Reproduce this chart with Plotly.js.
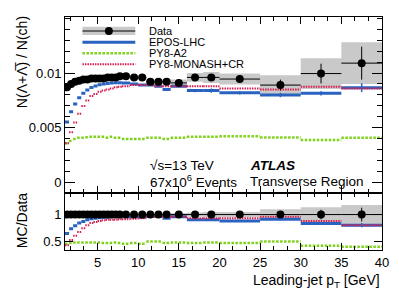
<!DOCTYPE html>
<html><head><meta charset="utf-8">
<script src="https://cdn.plot.ly/plotly-3.0.1.min.js"></script>
<style>html,body{margin:0;padding:0;background:#fff}#c{width:399px;height:299px}</style>
</head><body><div id="c"></div>
<script>
// Bin edges (leading-jet pT, GeV)
const binLo = [1,1.5,2,2.5,3,3.5,4,4.5,5,5.5,6,6.5,7,7.5,8,9,10,11,12,13,14,16,18,20,25,30,35];
const binHi = [1.5,2,2.5,3,3.5,4,4.5,5,5.5,6,6.5,7,7.5,8,9,10,11,12,13,14,16,18,20,25,30,35,40];

// Top panel: N(Lambda+antiLambda)/N(ch)
const dataVal = [0.0087,0.0090,0.0092,0.0093,0.0094,0.0094,0.0095,0.0095,0.0095,0.0095,0.0096,0.0096,0.0096,0.0097,
                 0.0097,0.0096,0.0096,0.0092,0.0092,0.0092,0.0091,0.0096,0.0096,0.00945,0.0089,0.00995,0.0109];
const dataStat = [0.00003,0.00003,0.00003,0.00003,0.00003,0.00003,0.00003,0.00003,0.00003,0.00003,0.00003,0.00003,0.00003,0.00003,
                  0.00005,0.00005,0.00005,0.00006,0.00007,0.00008,0.0001,0.0002,0.0003,0.0002,0.0005,0.0009,0.0015];
const dataSys = [0.00015,0.00015,0.00015,0.00015,0.00015,0.00015,0.00015,0.00015,0.00015,0.00015,0.00015,0.00015,0.00015,0.00015,
                 0.0002,0.0002,0.0002,0.0002,0.0002,0.0002,0.0003,0.0004,0.0005,0.0005,0.0009,0.0014,0.0019];
const eposVal = [0.00555,0.00647,0.00717,0.00774,0.00815,0.00845,0.00868,0.00882,0.00893,0.0090,0.00905,0.0091,0.00912,0.00912,
                 0.0091,0.0090,0.0089,0.0089,0.0088,0.0085,0.0088,0.0084,0.0084,0.0082,0.0080,0.00815,0.00866];
const eposErr = [0,0,0,0,0,0,0,0,0,0,0,0,0,0,0.00005,0.00005,0.00005,0.00005,0.00005,0.00005,0.0001,0.00015,0.0002,0.00015,0.0002,0.0002,0.0004];
const a2Val = [0.0036,0.0038,0.0040,0.0041,0.0041,0.00415,0.0042,0.0042,0.0042,0.0042,0.0041,0.0042,0.0041,0.0041,
               0.0040,0.0040,0.0040,0.0041,0.0041,0.0040,0.0041,0.0042,0.0042,0.00425,0.00413,0.0039,0.0041];
const monashVal = [0.0036,0.0046,0.0055,0.0063,0.0070,0.0075,0.0079,0.0081,0.0083,0.0084,0.0085,0.0086,0.0087,0.00875,
                   0.0088,0.0089,0.0089,0.0089,0.0088,0.0088,0.0088,0.0088,0.0088,0.0086,0.0085,0.00875,0.0086];

// Bottom panel: MC/Data
const ratioData = [1,1,1,1,1,1,1,1,1,1,1,1,1,1,1,1,1,1,1,1,1,1,1,1,1,1,1];
const ratioStat = [0.004,0.004,0.004,0.004,0.004,0.004,0.004,0.004,0.004,0.004,0.004,0.004,0.004,0.004,
                   0.005,0.005,0.005,0.007,0.008,0.009,0.01,0.02,0.03,0.02,0.05,0.09,0.13];
const ratioSys = [0.02,0.02,0.02,0.02,0.02,0.02,0.02,0.02,0.02,0.02,0.02,0.02,0.02,0.02,
                  0.02,0.02,0.02,0.02,0.02,0.02,0.03,0.04,0.05,0.05,0.10,0.14,0.18];
const eposRatio = [0.64,0.73,0.79,0.84,0.87,0.90,0.92,0.93,0.94,0.95,0.95,0.96,0.96,0.96,
                   0.96,0.96,0.95,0.97,0.97,0.93,0.96,0.90,0.90,0.88,0.91,0.83,0.80];
const eposRatioErr = [0,0,0,0,0,0,0,0,0,0,0,0,0,0,0.005,0.005,0.005,0.005,0.005,0.005,0.01,0.015,0.02,0.015,0.02,0.02,0.04];
const a2Ratio = [0.45,0.46,0.47,0.47,0.47,0.47,0.47,0.47,0.47,0.46,0.46,0.46,0.47,0.46,
                 0.45,0.46,0.45,0.49,0.49,0.46,0.47,0.46,0.47,0.46,0.49,0.41,0.39];
const monashRatio = [0.42,0.52,0.60,0.67,0.74,0.80,0.84,0.86,0.88,0.89,0.90,0.90,0.90,0.91,
                     0.91,0.92,0.93,0.96,0.96,0.96,0.96,0.93,0.93,0.93,0.96,0.88,0.80];

const legendLabels = ["Data","EPOS-LHC","PY8-A2","PY8-MONASH+CR"];
const xTickVals = [5,10,15,20,25,30,35,40];

const BLUE = "#2a62c0", GREEN = "#7ed31a", RED = "#d81e50", GREY = "#c9c9c9";

const centers = binLo.map((l,i)=>(l+binHi[i])/2);
const halfW = binLo.map((l,i)=>(binHi[i]-l)/2);

function segs(v){ const xs=[],ys=[]; v.forEach((y,i)=>{xs.push(binLo[i],binHi[i],null); ys.push(y,y,null);}); return {xs,ys}; }
function boxes(v,e){ const xs=[],ys=[]; v.forEach((y,i)=>{xs.push(binLo[i],binHi[i],binHi[i],binLo[i],binLo[i],null); ys.push(y-e[i],y-e[i],y+e[i],y+e[i],y-e[i],null);}); return {xs,ys}; }

function panel(xa, ya, dv, ds, dst, ev, eerr, av, mv){
  const b = boxes(dv, ds), e = segs(ev), a = segs(av), m = segs(mv);
  return [
    {x:b.xs, y:b.ys, xaxis:xa, yaxis:ya, type:'scatter', mode:'lines', fill:'toself', fillcolor:GREY, line:{width:0,color:GREY}, hoverinfo:'skip'},
    {x:e.xs, y:e.ys, xaxis:xa, yaxis:ya, type:'scatter', mode:'lines', line:{color:BLUE,width:3}},
    {x:centers, y:ev, xaxis:xa, yaxis:ya, type:'scatter', mode:'markers', marker:{size:1,color:BLUE,opacity:0},
     error_y:{type:'data',array:eerr,visible:true,color:BLUE,thickness:1.5,width:0}},
    {x:a.xs, y:a.ys, xaxis:xa, yaxis:ya, type:'scatter', mode:'lines', line:{color:GREEN,width:2.5,dash:'2.5px,1.5px'}},
    {x:m.xs, y:m.ys, xaxis:xa, yaxis:ya, type:'scatter', mode:'lines', line:{color:RED,width:2,dash:'1.5px,1px'}},
    {x:centers, y:dv, xaxis:xa, yaxis:ya, type:'scatter', mode:'markers', marker:{size:8,color:'black',symbol:'circle'},
     error_x:{type:'data',array:halfW,visible:true,color:'black',thickness:1,width:0},
     error_y:{type:'data',array:dst,visible:true,color:'black',thickness:1,width:0}}
  ];
}

const traces = [].concat(
  panel('x','y', dataVal, dataSys, dataStat, eposVal, eposErr, a2Val, monashVal),
  panel('x2','y2', ratioData, ratioSys, ratioStat, eposRatio, eposRatioErr, a2Ratio, monashRatio)
);

const FONT = "Liberation Sans, Arial, Helvetica, sans-serif";
const axBase = {showline:true, linecolor:'black', linewidth:1, mirror:'allticks', ticks:'inside', tickcolor:'black',
  showgrid:false, zeroline:false, tickfont:{family:FONT,size:13,color:'black'}};

const PW = 318, PH = 233, ML = 64.5, MT = 17;
const px = x => (x-ML)/PW, py = y => (MT+PH-y)/PH;

const layout = {
  width:399, height:299, margin:{l:ML, r:16.5, t:MT, b:49, pad:0},
  paper_bgcolor:'white', plot_bgcolor:'white', showlegend:false,
  font:{family:FONT, color:'black'},
  xaxis:Object.assign({}, axBase, {anchor:'y', domain:[0,1], range:[1,40], showticklabels:false, tick0:0, dtick:5, ticklen:7,
     minor:{dtick:5/3, ticklen:4, ticks:'inside', tickcolor:'black', showgrid:false}}),
  xaxis2:Object.assign({}, axBase, {anchor:'y2', domain:[0,1], range:[1,40], tickvals:xTickVals, ticktext:xTickVals.map(String), ticklen:7,
     minor:{dtick:5/3, ticklen:4, ticks:'inside', tickcolor:'black', showgrid:false}}),
  yaxis:Object.assign({}, axBase, {anchor:'x', domain:[0.243,1], range:[-0.00096,0.0151], tickvals:[0,0.005,0.01], ticktext:['0','0.005','0.01'], ticklen:10,
     minor:{dtick:0.001, ticklen:5, ticks:'inside', tickcolor:'black', showgrid:false}}),
  yaxis2:Object.assign({}, axBase, {anchor:'x2', domain:[0,0.243], range:[0.33,1.40], tickvals:[0.5,1], ticktext:['0.5','1'], ticklen:8}),
  shapes:[
    {type:'rect', xref:'paper', yref:'paper', x0:px(82), x1:px(135), y0:py(35), y1:py(26.7), fillcolor:GREY, line:{width:0}},
    {type:'line', xref:'paper', yref:'paper', x0:px(82), x1:px(135), y0:py(31), y1:py(31), line:{color:'black',width:1}},
    {type:'circle', xref:'paper', yref:'paper', xsizemode:'pixel', ysizemode:'pixel', xanchor:px(108.5), yanchor:py(31), x0:-4, x1:4, y0:-4, y1:4, fillcolor:'black', line:{width:0}},
    {type:'line', xref:'paper', yref:'paper', x0:px(82), x1:px(135), y0:py(42.3), y1:py(42.3), line:{color:BLUE,width:3}},
    {type:'line', xref:'paper', yref:'paper', x0:px(82), x1:px(135), y0:py(53.3), y1:py(53.3), line:{color:GREEN,width:2.5,dash:'2.5px,1.5px'}},
    {type:'line', xref:'paper', yref:'paper', x0:px(82), x1:px(135), y0:py(64.3), y1:py(64.3), line:{color:RED,width:2,dash:'1.5px,1px'}}
  ],
  annotations:[
    ...legendLabels.map((t,i)=>({xref:'paper',yref:'paper',x:px(147),y:py([31,42.3,53.3,64.3][i]),xanchor:'left',yanchor:'middle',text:t,showarrow:false,font:{family:FONT,size:11,color:'black'}})),
    {xref:'paper',yref:'paper',x:px(147.5),y:py(165),xanchor:'left',yanchor:'middle',text:'√s=13 TeV',showarrow:false,font:{family:FONT,size:13.5}},
    {xref:'paper',yref:'paper',x:px(147.5),y:py(181),xanchor:'left',yanchor:'middle',text:'67x10<sup>6</sup> Events',showarrow:false,font:{family:FONT,size:13.5}},
    {xref:'paper',yref:'paper',x:px(248),y:py(165),xanchor:'left',yanchor:'middle',text:'<b><i>ATLAS</i></b>',showarrow:false,font:{family:FONT,size:13.5}},
    {xref:'paper',yref:'paper',x:px(248),y:py(181),xanchor:'left',yanchor:'middle',text:'Transverse Region',showarrow:false,font:{family:FONT,size:13.5}},
    {xref:'paper',yref:'paper',x:px(383),y:py(281),xanchor:'right',yanchor:'middle',text:'Leading-jet p<sub>T</sub> [GeV]',showarrow:false,font:{family:FONT,size:14}},
    {xref:'paper',yref:'paper',x:px(21.5),y:py(62),xanchor:'center',yanchor:'middle',textangle:-90,text:'N(Λ+Λ\u0305) / N(ch)',showarrow:false,font:{family:FONT,size:14}},
    {xref:'paper',yref:'paper',x:px(21.5),y:py(221),xanchor:'center',yanchor:'middle',textangle:-90,text:'MC/Data',showarrow:false,font:{family:FONT,size:14}}
  ]
};

Plotly.newPlot('c', traces, layout, {staticPlot:true, displayModeBar:false});
</script>
</body></html>
